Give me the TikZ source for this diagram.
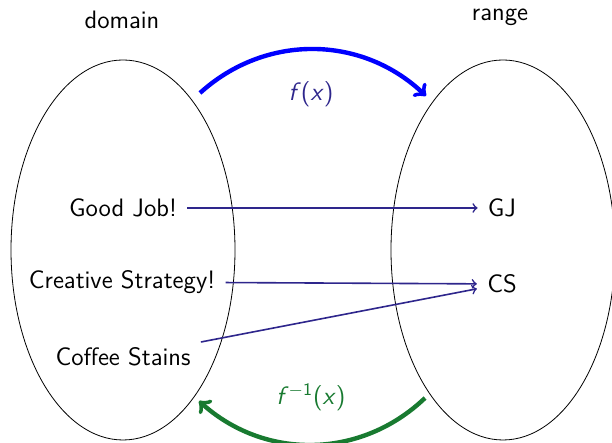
\documentclass[tikz,border=0pt]{standalone}
\usepackage{tikz}
\usetikzlibrary{shapes.geometric, positioning, arrows}
\usepackage{xcolor}
\definecolor{mapcol}{RGB}{46,38,140}
\definecolor{invcol}{RGB}{24,122,48}
\renewcommand{\familydefault}{\sfdefault}

\begin{document}
\begin{tikzpicture}[x=0.5pt, y=0.5pt, font=\fontsize{12.6}{15}\selectfont\sffamily,
    set/.style={draw, ellipse, thin, minimum width=112pt, minimum height=190pt},
    elem/.style={inner sep=5pt},
    maps/.style={->, mapcol, thick},
    fwd/.style={->, blue, line width=2.2pt},
    inv/.style={->, invcol, line width=2.2pt}]
      \useasboundingbox (0,0) rectangle (612,443);

      % the two sets
      \node[set] (dom) at (123,193) {};
      \node[set] (ran) at (503,193) {};
      \node (domlbl) at (122,423) {domain};
      \node (ranlbl) at (500,426) {range};

      % elements of the domain
      \node[elem] (gj) at (123,235) {Good Job!};
      \node[elem] (cs) at (122,161) {Creative Strategy!};
      \node[elem] (st) at (123,86) {Coffee Stains};

      % elements of the range
      \node[elem] (gjr) at (502,235) {GJ};
      \node[elem] (csr) at (502,159) {CS};

      % the mapping
      \draw[maps] (gj) -- (gjr);
      \draw[maps] (cs) -- (csr);
      \draw[maps] (st) -- (csr);

      % f and its inverse
      \coordinate (fa) at (200,350);
      \coordinate (fb) at (426,347);
      \coordinate (ga) at (425,45);
      \coordinate (gb) at (199,42);
      \draw[fwd] (fa) to[bend left=43] (fb);
      \draw[inv] (ga) to[bend left=43] (gb);
      \node[mapcol] (flbl) at (311,349) {\textit{f}(\textit{x})};
      \node[invcol] (glbl) at (311,46) {\textit{f}\textsuperscript{$-$1}(\textit{x})};
\end{tikzpicture}
\end{document}
